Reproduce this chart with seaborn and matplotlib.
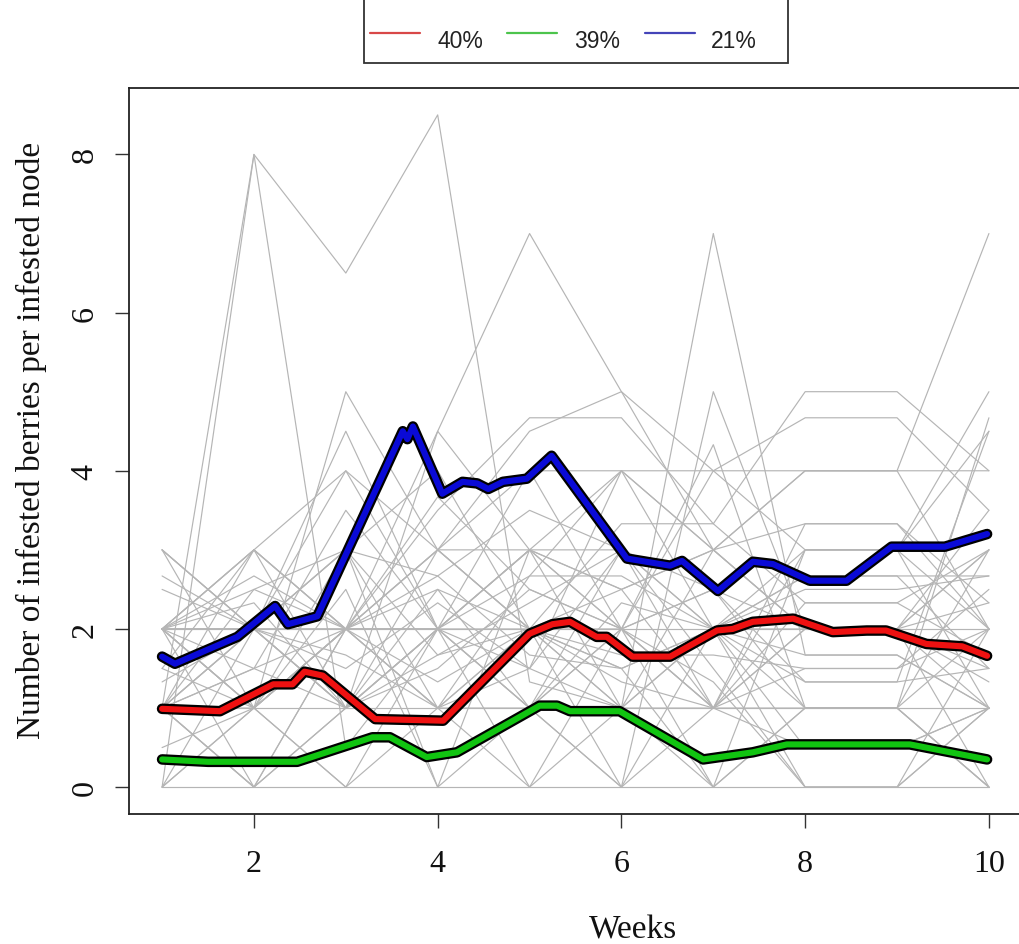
import numpy as np
import pandas as pd
import matplotlib
matplotlib.use("Agg")
import matplotlib.pyplot as plt
import matplotlib.patheffects as pe
from matplotlib.lines import Line2D
import seaborn as sns

# ---------------- data ----------------
weeks = [1, 2, 3, 4, 5, 6, 7, 8, 9, 10]

# individual infested nodes (grey trajectories), values per week
nodes = [
    [1, 8, 6.5, 8.5, 1.33, 1, 0, 1, 1, 0],
    [0, 8, 0.5, 2, 1, 2, 1, 1.5, 1.5, 2],
    [2, 1, 5, 3, 2, 1, 2, 0, 0, 1],
    [3, 2, 4.5, 2, 3, 2.5, 1, 2, 2, 3],
    [1, 2, 1, 4.5, 7, 5, 3, 2, 2, 1],
    [2, 3, 2, 3.5, 4.67, 4.67, 3.33, 5, 5, 4],
    [1, 1.5, 2, 3, 4.5, 5, 4, 4.67, 4.67, 3.5],
    [0, 1, 0, 2, 3, 1, 7, 1.67, 1.67, 1],
    [1, 0, 2, 1, 1, 0, 5, 2, 2, 1.5],
    [2, 2, 2, 3, 4, 4, 4, 4, 4, 4],
    [0, 0, 0, 0, 0, 0, 0, 0, 0, 0],
    [1, 1, 1, 1, 1, 1, 1, 1, 1, 1],
    [2, 2, 2, 2, 2, 2, 2, 2, 2, 2],
    [3, 1, 2, 2, 1.5, 3, 2, 3, 3, 2],
    [2, 3, 1, 1.67, 2, 3.33, 3.33, 2.33, 2.33, 3],
    [1, 2.5, 3, 1, 2, 1.5, 0, 3, 3, 5],
    [2, 0, 1, 1.5, 2.5, 2, 1, 1, 1, 4.67],
    [0, 1, 3, 0, 1, 2, 2.5, 1.33, 1.33, 4.5],
    [2, 2.67, 2, 2.5, 1, 0, 1, 3.33, 3.33, 2],
    [1.5, 1, 2, 3, 3, 3, 2, 2.67, 2.67, 1.5],
    [1, 2, 4, 3, 2, 2.5, 3, 4, 4, 7],
    [2, 1, 0, 1, 1.5, 4, 3, 2, 2, 3],
    [3, 2, 1, 2, 2.67, 2.67, 2, 0.5, 0.5, 1],
    [1, 0, 1, 2, 4, 2, 1, 3, 3, 1],
    [2.5, 2, 3, 4, 2, 1.67, 1.67, 1.5, 1.5, 2.5],
    [2, 1, 2.5, 0, 3, 2, 4.33, 1, 1, 0],
    [1, 2, 3, 1.67, 2.33, 3, 1.5, 0, 0, 2],
    [1.33, 2, 1.5, 2.33, 1.5, 1, 2, 2.5, 2.5, 2.67],
    [0.5, 1, 2, 2.67, 3.5, 3, 2.5, 2, 2, 1.33],
    [2, 2.33, 1, 2, 1, 2.33, 2, 1.67, 1.67, 1],
    [1, 3, 4, 2, 0, 1, 1, 2.33, 2.33, 1.67],
    [2, 1.5, 3.5, 2, 2, 1.5, 2, 1, 1, 2],
    [3, 2, 2, 3.67, 2.5, 2, 0, 1, 1, 0],
    [0, 2, 1, 2, 3, 2.5, 3, 3.33, 3.33, 2.33],
    [2, 1, 2, 1, 2.67, 4, 2, 2, 2, 3.5],
    [1.5, 3, 2, 1, 0, 2, 1.33, 0, 0, 1],
    [2, 2, 1, 2.5, 2, 0, 2, 1.33, 1.33, 1.5],
    [1, 0, 2, 2, 3, 2, 4, 3, 3, 4.5],
    [2, 2.5, 2, 2, 1, 3, 1, 0.5, 0.5, 1],
    [2.67, 2, 1.67, 1, 2, 2, 2.5, 1, 1, 3],
    [1, 1.5, 1, 3, 2, 1, 3, 4, 4, 2],
    [2, 2, 3, 2.67, 1.67, 1.5, 2, 2.67, 2.67, 2.67],
    [1, 1, 2, 4.5, 3, 4, 3, 2, 2, 0],
    [2, 3, 2, 1.33, 2, 1.33, 1, 2, 2, 2.33],
]

# group mean curves (thick lines)
red_x = [1.0, 1.63, 2.21, 2.42, 2.55, 2.75, 3.32, 4.06, 5.0, 5.25, 5.44, 5.73,
         5.84, 6.12, 6.53, 7.04, 7.21, 7.43, 7.87, 8.30, 8.67, 8.88, 9.32, 9.71, 9.98]
red_y = [0.99, 0.96, 1.30, 1.30, 1.46, 1.41, 0.86, 0.84, 1.94, 2.06, 2.09, 1.90,
         1.90, 1.65, 1.65, 1.98, 2.00, 2.09, 2.13, 1.96, 1.98, 1.98, 1.81, 1.78, 1.66]

green_x = [1.0, 1.5, 2.47, 3.29, 3.48, 3.88, 4.21, 5.11, 5.30, 5.44, 5.98, 6.89,
           7.43, 7.80, 9.14, 9.98]
green_y = [0.35, 0.32, 0.32, 0.63, 0.63, 0.38, 0.44, 1.03, 1.03, 0.96, 0.96, 0.35,
           0.44, 0.54, 0.54, 0.35]

blue_x = [1.0, 1.14, 1.82, 2.23, 2.37, 2.69, 3.62, 3.67, 3.73, 4.05, 4.27, 4.43,
          4.55, 4.71, 4.97, 5.24, 6.06, 6.53, 6.66, 7.05, 7.43, 7.65, 8.05, 8.45,
          8.94, 9.52, 9.98]
blue_y = [1.65, 1.56, 1.90, 2.29, 2.06, 2.16, 4.50, 4.40, 4.56, 3.71, 3.86, 3.84,
          3.77, 3.86, 3.90, 4.19, 2.89, 2.80, 2.86, 2.48, 2.85, 2.82, 2.61, 2.61,
          3.04, 3.04, 3.20]

legend_labels = ["40%", "39%", "21%"]
series_colors = ["#ee1111", "#11c411", "#0a0ad6"]
legend_colors = ["#d84848", "#4cc44c", "#4444b8"]

x_ticks = [2, 4, 6, 8, 10]
y_ticks = [0, 2, 4, 6, 8]
x_label = "Weeks"
y_label = "Number of infested berries per infested node"

# ---------------- plot ----------------
sns.set_style("ticks")
plt.rcParams["font.family"] = ["Liberation Serif", "DejaVu Serif"]

W, H = 1020, 945
fig = plt.figure(figsize=(W / 100, H / 100), dpi=100)
L, R, T, B = 129, 1022, 89, 815
ax = fig.add_axes([L / W, 1 - B / H, (R - L) / W, (B - T) / H])

gray_df = pd.DataFrame(
    [(i, w, v) for i, row in enumerate(nodes) for w, v in zip(weeks, row)],
    columns=["node", "week", "value"],
)
sns.lineplot(data=gray_df, x="week", y="value", units="node", estimator=None,
             color="#b5b5b5", lw=0.85, ax=ax, legend=False)

outline = [pe.Stroke(linewidth=7.6, foreground="black"), pe.Normal()]
for xs, ys, c in [(red_x, red_y, series_colors[0]),
                  (green_x, green_y, series_colors[1]),
                  (blue_x, blue_y, series_colors[2])]:
    sns.lineplot(x=xs, y=ys, sort=False, color=c, lw=4.4, ax=ax,
                 path_effects=outline, solid_joinstyle="round",
                 solid_capstyle="round")

ax.set_xlim(0.64, 10.36)
ax.set_ylim(-0.34, 8.84)
ax.set_xticks(x_ticks)
ax.set_yticks(y_ticks)
ax.set_xticklabels([str(t) for t in x_ticks])
ax.set_yticklabels([str(t) for t in y_ticks], rotation=90, va="center")
ax.tick_params(axis="both", direction="out", length=10, width=1.0,
               color="#333333", labelsize=23, labelcolor="#111111")
ax.tick_params(axis="x", pad=15)
ax.tick_params(axis="y", pad=11)
for s in ax.spines.values():
    s.set_visible(True)
    s.set_color("#222222")
    s.set_linewidth(1.3)

ax.set_xlabel(x_label, fontsize=24, color="#111111")
ax.set_ylabel(y_label, fontsize=24, color="#111111")
ax.xaxis.set_label_coords((633 - L) / (R - L), -(939 - B) / (B - T), transform=ax.transAxes)
ax.xaxis.label.set_va("baseline")
ax.yaxis.set_label_coords(-(L - 47) / (R - L), (B - 440) / (B - T))

# ---------------- legend (top, outside the box; top edge cut off) ----------------
def fx(px):
    return px / W

def fy(py):
    return 1 - py / H

fig.add_artist(Line2D([fx(364), fx(364), fx(788), fx(788)],
                      [fy(-5), fy(64), fy(64), fy(-5)],
                      transform=fig.transFigure, color="#333333", lw=1.3,
                      solid_joinstyle="miter"))
line_x0 = [370, 507, 645]
text_cx = [460, 597, 734]
for x0, tc, lab, lc in zip(line_x0, text_cx, legend_labels, legend_colors):
    fig.add_artist(Line2D([fx(x0), fx(x0 + 50)], [fy(34), fy(34)],
                          transform=fig.transFigure, color=lc, lw=1.6))
    fig.text(fx(tc), fy(41), lab, ha="center", va="center", fontsize=16.5,
             family=["Liberation Sans Narrow", "Liberation Sans", "DejaVu Sans"],
             color="#222222")

fig.savefig("out.png", dpi=100)
